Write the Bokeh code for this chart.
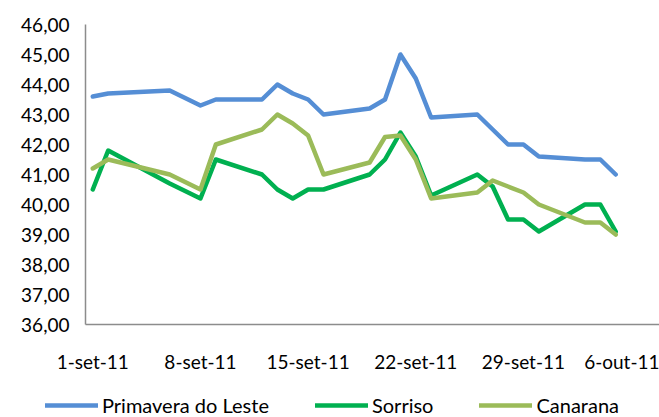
import pandas as pd
from bokeh.plotting import figure
from bokeh.models import ColumnDataSource, FixedTicker, Legend, LegendItem, Range1d
from bokeh.embed import file_html
from bokeh.resources import INLINE

dates = ["2011-09-01", "2011-09-02", "2011-09-06", "2011-09-08", "2011-09-09",
         "2011-09-12", "2011-09-13", "2011-09-14", "2011-09-15", "2011-09-16",
         "2011-09-19", "2011-09-20", "2011-09-21", "2011-09-22", "2011-09-23",
         "2011-09-26", "2011-09-27", "2011-09-28", "2011-09-29", "2011-09-30",
         "2011-10-03", "2011-10-04", "2011-10-05"]
primavera = [43.6, 43.7, 43.8, 43.3, 43.5, 43.5, 44.0, 43.7, 43.5, 43.0,
             43.2, 43.5, 45.0, 44.2, 42.9, 43.0, 42.5, 42.0, 42.0, 41.6,
             41.5, 41.5, 41.0]
sorriso = [40.5, 41.8, 40.7, 40.2, 41.5, 41.0, 40.5, 40.2, 40.5, 40.5,
           41.0, 41.5, 42.4, 41.6, 40.3, 41.0, 40.6, 39.5, 39.5, 39.1,
           40.0, 40.0, 39.1]
canarana = [41.2, 41.5, 41.0, 40.5, 42.0, 42.5, 43.0, 42.7, 42.3, 41.0,
            41.4, 42.25, 42.3, 41.5, 40.2, 40.4, 40.8, 40.6, 40.4, 40.0,
            39.4, 39.4, 39.0]
series_names = ["Primavera do Leste", "Sorriso", "Canarana"]

x_tick_dates = ["2011-09-01", "2011-09-08", "2011-09-15", "2011-09-22", "2011-09-29", "2011-10-06"]
x_tick_labels = ["1-set-11", "8-set-11", "15-set-11", "22-set-11", "29-set-11", "6-out-11"]
y_ticks = [36, 37, 38, 39, 40, 41, 42, 43, 44, 45, 46]
y_tick_labels = ["36,00", "37,00", "38,00", "39,00", "40,00", "41,00",
                 "42,00", "43,00", "44,00", "45,00", "46,00"]
y_min, y_max = 36, 46

colors = ["#558ED5", "#00B050", "#9BBB59"]
FONT = "Lato"
FS = "19px"

W, H = 659, 417
PX_PER_DAY = 15.38
PX_PER_UNIT = 30.0
X0_PX = 92.3       # pixel of first date
TOP_PX = 24.0      # pixel of y_max

src = ColumnDataSource(dict(d=pd.to_datetime(dates), a=primavera, b=sorriso, c=canarana))

start = pd.Timestamp(dates[0])
day = pd.Timedelta(days=1)
x_start = start - day * (X0_PX / PX_PER_DAY)
x_end = start + day * ((W - X0_PX) / PX_PER_DAY)
axis_origin = start - day * 0.475
y_top = y_max + TOP_PX / PX_PER_UNIT
y_bottom = y_top - H / PX_PER_UNIT

def ms(t):
    return int(pd.Timestamp(t).value // 10**6)

p = figure(width=W, height=H, x_axis_type="datetime", output_backend="svg",
           toolbar_location=None,
           x_range=Range1d(start=x_start, end=x_end),
           y_range=Range1d(y_bottom, y_top),
           min_border_left=0, min_border_top=0, min_border_bottom=0,
           min_border_right=0)
p.outline_line_color = None
p.xgrid.visible = False
p.ygrid.visible = False
p.background_fill_color = "white"
p.border_fill_color = "white"

renderers = []
for col, c in zip(["a", "b", "c"], colors):
    r = p.line("d", col, source=src, line_color=c, line_width=4.5,
               line_join="round", line_cap="round")
    renderers.append(r)

tick_ms = [ms(d) for d in x_tick_dates]
p.xaxis.ticker = FixedTicker(ticks=tick_ms)
p.xaxis.major_label_overrides = {t: l for t, l in zip(tick_ms, x_tick_labels)}
p.xaxis.fixed_location = y_min
p.xaxis.bounds = (ms(axis_origin), ms(x_end))
p.yaxis.ticker = FixedTicker(ticks=y_ticks)
p.yaxis.major_label_overrides = {t: l for t, l in zip(y_ticks, y_tick_labels)}
p.yaxis.fixed_location = ms(axis_origin)
p.yaxis.bounds = (y_min, y_max)

for ax in (p.xaxis[0], p.yaxis[0]):
    ax.axis_line_color = "#8C8C8C"
    ax.axis_line_width = 1.5
    ax.major_tick_line_color = None
    ax.minor_tick_line_color = None
    ax.major_tick_out = 0
    ax.major_tick_in = 0
    ax.minor_tick_out = 0
    ax.minor_tick_in = 0
    ax.major_label_text_font = FONT
    ax.major_label_text_font_size = FS
    ax.major_label_text_color = "black"
p.yaxis.major_label_standoff = 16
p.xaxis.major_label_standoff = 25

legend = Legend(items=[LegendItem(label=n, renderers=[r]) for n, r in zip(series_names, renderers)],
                orientation="horizontal", location=(45, 0),
                label_text_font=FONT, label_text_font_size="20px", label_text_color="black",
                glyph_width=53, glyph_height=20, label_standoff=4, spacing=46,
                padding=0, margin=0, border_line_color=None,
                background_fill_alpha=0)
p.add_layout(legend, "center")

open("out.html", "w").write(file_html(p, INLINE))
